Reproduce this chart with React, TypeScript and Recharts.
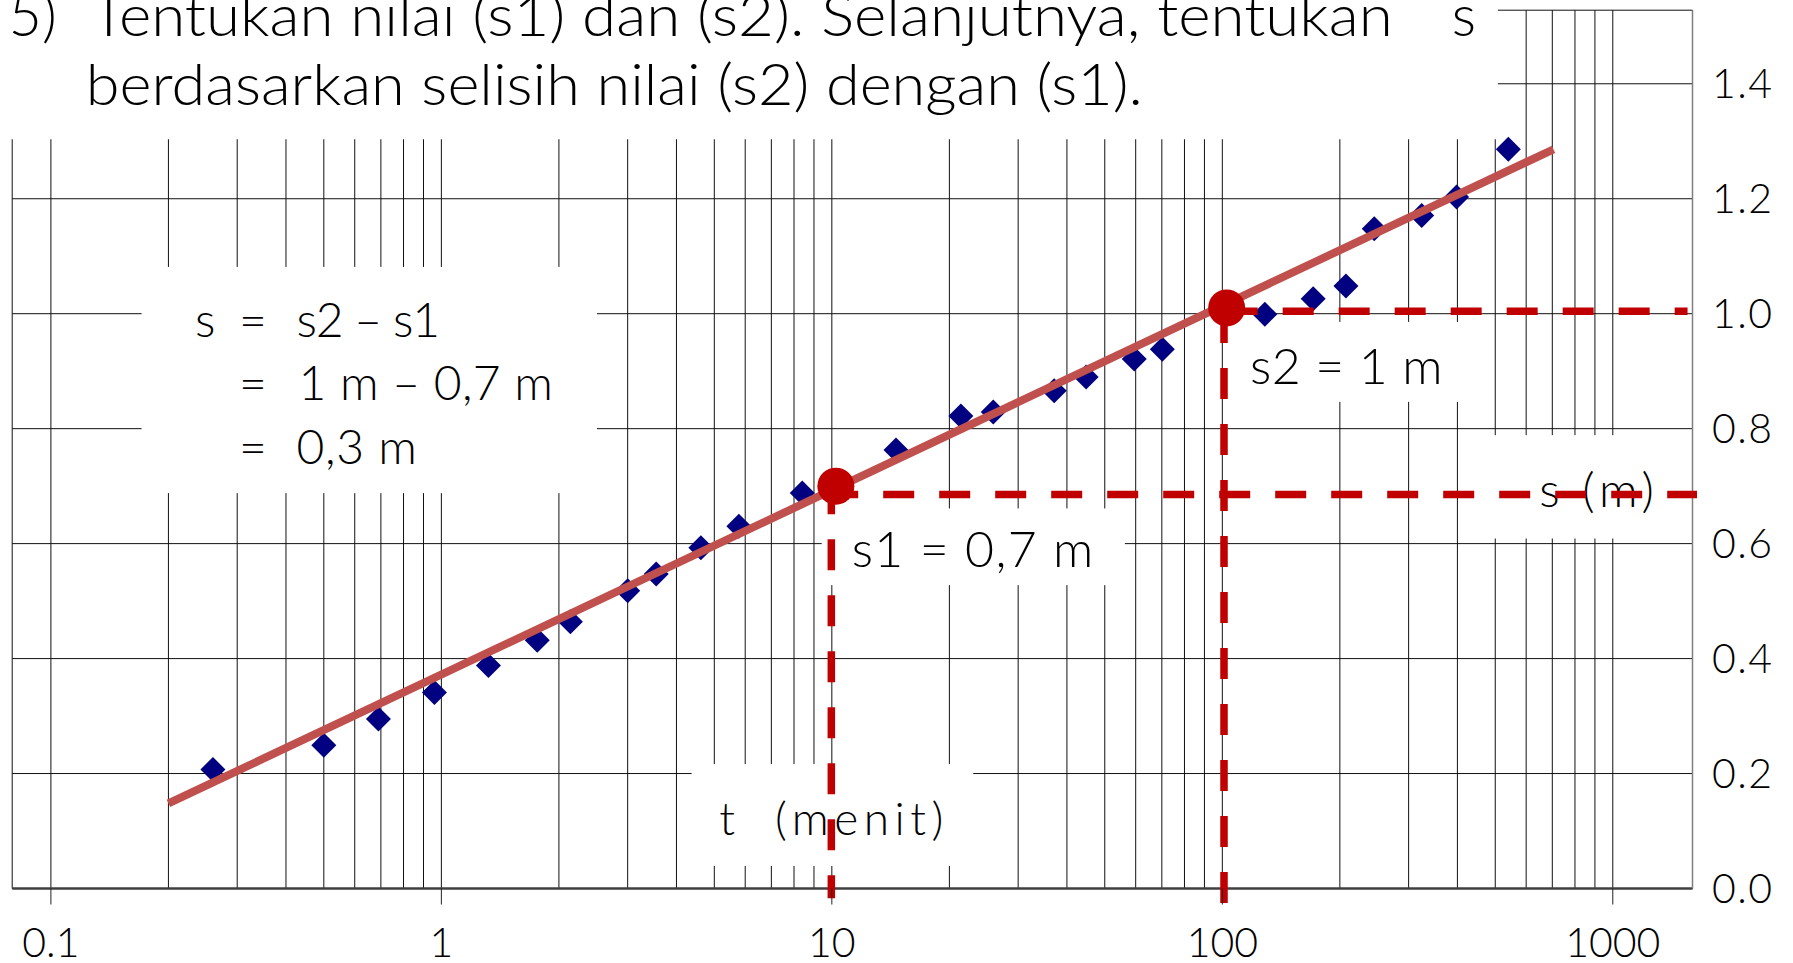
import React from 'react';
import {
  ComposedChart,
  XAxis,
  YAxis,
  CartesianGrid,
  Scatter,
  Line,
  ReferenceLine,
  ReferenceArea,
} from 'recharts';

// observed drawdown s (m) against time t (menit)
const T_OBS = [
  0.26, 0.5, 0.69, 0.96, 1.32, 1.76, 2.14, 3.0, 3.55, 4.62, 5.78, 8.4, 14.6,
  21.4, 25.9, 37.1, 44.8, 59.5, 70.2, 128.5, 170.9, 207.3, 245, 324, 398, 540,
];
const S_OBS = [
  0.207, 0.249, 0.295, 0.341, 0.388, 0.432, 0.464, 0.518, 0.547, 0.593, 0.63,
  0.688, 0.763, 0.822, 0.829, 0.866, 0.89, 0.921, 0.938, 0.999, 1.026, 1.048,
  1.148, 1.171, 1.203, 1.286,
];

// fitted straight line
const TREND_T = [0.2, 705];
const TREND_S = [0.148, 1.286];

// picked points s1 and s2
const PICK_T = [10.24, 102.6];
const PICK_S = [0.7, 1.01];

const X_MIN = 0.0796;
const X_MAX = 1600;
const Y_MAX = 1.528;
const X_LABELS = [0.1, 1, 10, 100, 1000];
const MANTISSA = [1, 2, 3, 4, 5, 6, 7, 8, 9];
const Y_LABELS = [0, 0.2, 0.4, 0.6, 0.8, 1.0, 1.2, 1.4];

const GRID_T = [
  X_MIN,
  ...X_LABELS.slice(0, 4).flatMap((d) => MANTISSA.map((m) => m * d)),
  1000,
];
const GRID_S = [...Y_LABELS, Y_MAX];

const obsData = T_OBS.map((t, i) => ({ t, s: S_OBS[i] }));
const trendData = TREND_T.map((t, i) => ({ t, s: TREND_S[i] }));
const pickData = PICK_T.map((t, i) => ({ t, s: PICK_S[i] }));

const FONT = 'Lato, "Open Sans", sans-serif';
const RED = '#C00000';
const DASH = '31 25';

type Txt = { s: string; dx: number; dy: number; size: number; len?: number; adj?: string };

const boxShape = (items: Txt[]) => (p: any) => (
  <g>
    <rect x={p.x} y={p.y} width={p.width} height={p.height} fill="#ffffff" />
    {items.map((it, i) => (
      <text
        key={i}
        x={p.x + it.dx}
        y={p.y + it.dy}
        fontSize={it.size}
        fontFamily={FONT}
        fontWeight={300}
        fill="#000"
        {...(it.len ? { textLength: it.len, lengthAdjust: it.adj || 'spacingAndGlyphs' } : {})}
      >
        {it.s}
      </text>
    ))}
  </g>
);

const titleBox = boxShape([
  { s: '5)', dx: 9, dy: 36, size: 57 },
  { s: 'Tentukan nilai (s1) dan (s2). Selanjutnya, tentukan', dx: 91, dy: 36, size: 57, len: 1302 },
  { s: 's', dx: 1452, dy: 36, size: 57 },
  { s: 'berdasarkan selisih nilai (s2) dengan (s1).', dx: 86, dy: 104.5, size: 57, len: 1057 },
]);

const eqBox = boxShape([
  { s: 's', dx: 53.4, dy: 70, size: 48 },
  { s: '=', dx: 97.4, dy: 70, size: 48 },
  { s: 's2 – s1', dx: 155, dy: 70, size: 48, len: 143.4, adj: 'spacing' },
  { s: '=', dx: 97.4, dy: 133.3, size: 48 },
  { s: '1 m – 0,7 m', dx: 156.9, dy: 133.3, size: 48, len: 254.5, adj: 'spacing' },
  { s: '=', dx: 97.4, dy: 196.6, size: 48 },
  { s: '0,3 m', dx: 155, dy: 196.6, size: 48, len: 120.4, adj: 'spacing' },
]);

const s1Box = boxShape([{ s: 's1 = 0,7 m', dx: 30, dy: 58.4, size: 50, len: 241.6, adj: 'spacing' }]);
const s2Box = boxShape([{ s: 's2 = 1 m', dx: 18, dy: 61.6, size: 50, len: 192.7, adj: 'spacing' }]);
const tBox = boxShape([
  { s: 't', dx: 27.6, dy: 71, size: 46 },
  { s: '(menit)', dx: 83.3, dy: 71, size: 46, len: 168.3, adj: 'spacing' },
]);
const sBox = boxShape([{ s: 's (m)', dx: 69.3, dy: 72, size: 48, len: 114.7, adj: 'spacing' }]);

const Diamond = (p: any) => {
  const { cx, cy } = p;
  const r = 12.5;
  return (
    <polygon
      points={`${cx},${cy - r} ${cx + r},${cy} ${cx},${cy + r} ${cx - r},${cy}`}
      fill="#000080"
    />
  );
};

const Dot = (p: any) => <circle cx={p.cx} cy={p.cy} r={18.5} fill={RED} />;

const XTick = (p: any) => {
  const v = p.payload.value;
  if (!X_LABELS.includes(v)) return <g />;
  return (
    <g>
      <line x1={p.x} y1={p.y} x2={p.x} y2={p.y + 16} stroke="#222" strokeWidth={1} />
      <text x={p.x} y={p.y + 68} textAnchor="middle" fontSize={41} fontFamily={FONT} fontWeight={300} fill="#000">
        {String(v)}
      </text>
    </g>
  );
};

const YTick = (p: any) => {
  const v = p.payload.value;
  if (!Y_LABELS.includes(v)) return <g />;
  return (
    <text
      x={p.x + 19.5}
      y={p.y + 14.5}
      fontSize={41}
      fontFamily={FONT}
      fontWeight={300}
      fill="#000"
      textLength={60}
      lengthAdjust="spacing"
    >
      {v.toFixed(1)}
    </text>
  );
};

export default function App() {
  return (
    <div style={{ position: 'absolute', left: 0, top: 0, background: '#fff' }}>
      <ComposedChart
        width={1793}
        height={963}
        margin={{ top: 10.2, right: 0.5, bottom: 0.5, left: 12.2 }}
      >
        <XAxis
          dataKey="t"
          type="number"
          scale="log"
          domain={[X_MIN, X_MAX]}
          allowDataOverflow
          ticks={GRID_T}
          interval={0}
          height={74}
          tickSize={0}
          tickMargin={0}
          tickLine={false}
          tick={<XTick />}
          axisLine={{ stroke: '#404040', strokeWidth: 2.5 }}
        />
        <YAxis
          dataKey="s"
          type="number"
          orientation="right"
          domain={[0, Y_MAX]}
          allowDataOverflow
          ticks={GRID_S}
          interval={0}
          width={100}
          tickSize={0}
          tickMargin={0}
          tickLine={false}
          tick={<YTick />}
          axisLine={{ stroke: '#7f7f7f', strokeWidth: 1.5 }}
        />
        <CartesianGrid stroke="#111" strokeWidth={1} />

        <ReferenceArea x1={0.074} x2={507.8} y1={1.3035} y2={1.545} ifOverflow="visible" zIndex={50} shape={titleBox} />
        <ReferenceArea x1={0.1707} x2={2.503} y1={0.6878} y2={1.0814} ifOverflow="visible" zIndex={50} shape={eqBox} />
        <ReferenceArea x1={9.42} x2={56.3} y1={0.5278} y2={0.6612} ifOverflow="visible" zIndex={50} shape={s1Box} />
        <ReferenceArea x1={105.8} x2={484.3} y1={0.8466} y2={0.9857} ifOverflow="visible" zIndex={50} shape={s2Box} />
        <ReferenceArea x1={4.375} x2={23.02} y1={0.0391} y2={0.2165} ifOverflow="visible" zIndex={50} shape={tBox} />
        <ReferenceArea x1={430.5} x2={1575} y1={0.6089} y2={0.7887} ifOverflow="visible" zIndex={50} shape={sBox} />

        <Scatter data={obsData} shape={<Diamond />} isAnimationActive={false} zIndex={350} />
        <Line
          data={trendData}
          dataKey="s"
          stroke="#C0504D"
          strokeWidth={8}
          dot={false}
          activeDot={false}
          isAnimationActive={false}
          zIndex={400}
        />

        <ReferenceLine
          segment={[{ x: 9.73, y: 0.6856 }, { x: 1643, y: 0.6856 }]}
          stroke={RED}
          strokeWidth={7.5}
          strokeDasharray={DASH}
          ifOverflow="visible"
          zIndex={550}
        />
        <ReferenceLine
          segment={[{ x: 9.97, y: 0.705 }, { x: 9.97, y: -0.017 }]}
          stroke={RED}
          strokeWidth={7.5}
          strokeDasharray={DASH}
          ifOverflow="visible"
          zIndex={550}
        />
        <ReferenceLine
          segment={[{ x: 102.6, y: 1.0043 }, { x: 1554, y: 1.0043 }]}
          stroke={RED}
          strokeWidth={7.5}
          strokeDasharray={DASH}
          ifOverflow="visible"
          zIndex={550}
        />
        <ReferenceLine
          segment={[{ x: 101, y: 1.003 }, { x: 101, y: -0.027 }]}
          stroke={RED}
          strokeWidth={7.5}
          strokeDasharray={DASH}
          ifOverflow="visible"
          zIndex={550}
        />

        <Scatter data={pickData} shape={<Dot />} isAnimationActive={false} zIndex={650} />
      </ComposedChart>
    </div>
  );
}
